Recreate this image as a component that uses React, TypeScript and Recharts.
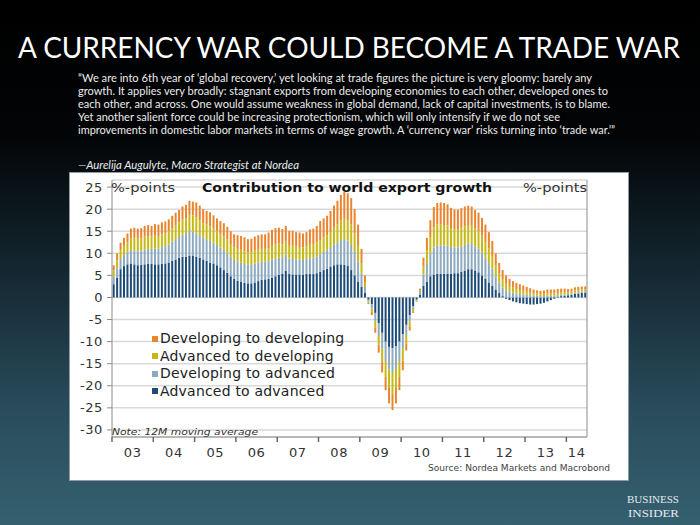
import React from 'react';
import { BarChart, Bar, XAxis, YAxis, CartesianGrid, Legend } from 'recharts';

// two-digit years on the axis, last year only runs to June
const years = ['03', '04', '05', '06', '07', '08', '09', '10', '11', '12', '13', '14'];
const monthsInLastYear = 6;

// %-points, 12M moving average, one value per month from Jan 2003
const advToAdv = [
  3.0, 4.5, 6.4, 7.1, 7.5, 7.7, 7.5, 7.3, 7.4, 7.5, 7.6, 7.6,
  7.5, 7.5, 7.6, 7.7, 7.9, 8.3, 8.6, 9.0, 9.2, 9.2, 9.5, 9.5,
  9.2, 9.0, 8.6, 8.3, 7.9, 7.7, 7.3, 6.8, 6.2, 5.6, 4.8, 4.2,
  3.8, 3.5, 3.3, 3.2, 3.2, 3.4, 3.7, 4.0, 4.1, 4.2, 4.5, 4.8,
  5.1, 5.4, 6.0, 5.3, 5.2, 5.2, 5.2, 5.2, 5.3, 5.3, 5.3, 5.5,
  5.8, 6.2, 6.5, 7.0, 7.3, 7.5, 7.5, 7.4, 7.2, 6.2, 5.0, 3.6,
  2.4, 1.0, -0.5, -1.5, -3.5, -5.8, -8.0, -10.0, -11.2, -11.5, -11.0, -10.0,
  -8.3, -6.2, -4.0, -2.0, -0.5, 0.6, 2.6, 3.6, 4.8, 5.2, 5.4, 5.4,
  5.4, 5.4, 5.4, 5.5, 5.5, 5.8, 6.1, 6.4, 6.4, 6.1, 5.7, 5.0,
  4.2, 3.4, 2.6, 1.8, 1.0, 0.3, -0.3, -0.6, -0.9, -1.1, -1.3, -1.4,
  -1.5, -1.6, -1.6, -1.5, -1.4, -1.2, -0.9, -0.6, -0.3, 0.1, 0.3, 0.4,
  0.5, 0.6, 0.8, 0.9, 1.0, 1.1,
];

const devToAdv = [
  1.7, 2.1, 2.3, 2.5, 2.7, 3.1, 3.2, 3.2, 3.2, 3.4, 3.4, 3.4,
  3.6, 3.6, 3.8, 3.9, 4.1, 4.3, 4.6, 4.7, 5.0, 5.2, 5.5, 5.4,
  5.3, 5.1, 4.9, 4.9, 4.9, 4.7, 4.6, 4.5, 4.6, 4.5, 4.4, 4.3,
  4.3, 4.4, 4.3, 4.2, 4.2, 4.3, 4.2, 4.1, 4.0, 4.0, 4.1, 4.0,
  3.9, 3.6, 3.7, 3.5, 3.5, 3.4, 3.4, 3.3, 3.4, 3.6, 3.7, 3.8,
  4.0, 4.1, 4.2, 4.4, 4.7, 5.0, 5.5, 5.8, 5.7, 5.7, 5.3, 4.5,
  3.0, 1.4, -0.4, -1.0, -1.8, -2.7, -3.6, -4.4, -5.1, -5.6, -5.2, -4.4,
  -3.3, -2.3, -1.4, -0.6, -0.2, 0.6, 2.6, 4.0, 5.1, 6.1, 6.4, 6.4,
  6.4, 6.3, 6.0, 5.8, 5.8, 5.8, 5.8, 5.8, 5.7, 5.5, 5.4, 5.2,
  4.8, 4.4, 3.9, 3.0, 2.4, 2.0, 1.6, 1.3, 1.1, 0.9, 0.8, 0.7,
  0.6, 0.5, 0.4, 0.4, 0.3, 0.3, 0.4, 0.4, 0.4, 0.4, 0.4, 0.3,
  0.3, 0.3, 0.3, 0.3, 0.3, 0.3,
];

const advToDev = [
  1.4, 1.8, 2.0, 2.1, 2.3, 2.6, 2.8, 2.8, 2.8, 2.9, 2.9, 2.8,
  2.9, 2.8, 2.9, 2.9, 3.0, 3.1, 3.2, 3.3, 3.4, 3.5, 3.7, 3.7,
  3.6, 3.4, 3.3, 3.3, 3.3, 3.2, 3.1, 3.0, 3.0, 3.0, 2.9, 2.9,
  2.9, 2.9, 2.9, 2.8, 2.8, 2.9, 2.9, 2.9, 2.9, 3.0, 3.1, 3.2,
  3.2, 3.0, 3.1, 2.9, 3.0, 2.9, 2.8, 2.8, 2.9, 3.0, 3.1, 3.2,
  3.2, 3.3, 3.4, 3.5, 3.8, 4.0, 4.4, 4.6, 4.6, 4.6, 4.2, 3.6,
  2.4, 1.1, -0.3, -0.8, -1.5, -2.2, -3.0, -3.6, -4.2, -4.6, -4.3, -3.6,
  -2.7, -1.9, -1.2, -0.5, -0.2, 0.4, 1.9, 3.0, 3.8, 4.6, 4.8, 4.8,
  4.6, 4.6, 4.3, 4.2, 4.2, 4.2, 4.2, 4.2, 4.1, 4.0, 3.9, 3.8,
  3.6, 3.3, 2.9, 2.4, 2.0, 1.7, 1.5, 1.3, 1.1, 1.0, 0.9, 0.8,
  0.7, 0.6, 0.5, 0.5, 0.5, 0.5, 0.5, 0.5, 0.5, 0.5, 0.5, 0.5,
  0.4, 0.4, 0.5, 0.5, 0.5, 0.4,
];

const devToDev = [
  1.2, 1.6, 1.7, 1.8, 2.0, 2.2, 2.3, 2.3, 2.3, 2.4, 2.5, 2.4,
  2.6, 2.6, 2.7, 2.7, 2.7, 2.8, 2.8, 2.8, 3.0, 3.1, 3.2, 3.1,
  3.4, 3.3, 3.2, 3.1, 3.2, 3.0, 2.9, 3.0, 3.0, 2.9, 2.9, 2.9,
  3.1, 3.1, 3.1, 3.0, 3.1, 3.2, 3.3, 3.3, 3.3, 3.5, 3.6, 3.7,
  3.6, 3.5, 3.4, 3.4, 3.4, 3.3, 3.3, 3.2, 3.2, 3.5, 3.5, 3.7,
  4.3, 4.3, 4.4, 4.7, 5.0, 5.4, 5.8, 6.1, 6.1, 6.0, 5.5, 4.8,
  3.2, 1.5, -0.3, -0.7, -1.2, -1.8, -2.4, -3.0, -3.5, -3.8, -3.5, -3.0,
  -2.2, -1.6, -0.9, -0.4, -0.1, 0.4, 1.9, 2.9, 3.8, 4.6, 4.8, 4.9,
  5.0, 4.8, 4.6, 4.4, 4.4, 4.4, 4.5, 4.4, 4.4, 4.2, 4.2, 4.0,
  3.9, 3.7, 3.4, 2.8, 2.4, 2.2, 1.9, 1.6, 1.5, 1.4, 1.3, 1.2,
  1.1, 1.0, 0.9, 0.7, 0.7, 0.8, 0.9, 0.9, 0.9, 0.9, 0.8, 0.8,
  0.7, 0.7, 0.7, 0.7, 0.7, 0.7,
];

const yTicks = [-30, -25, -20, -15, -10, -5, 0, 5, 10, 15, 20, 25];

const quoteLines = [
  '\u201CWe are into 6th year of \u2018global recovery,\u2019 yet looking at trade figures the picture is very gloomy: barely any',
  'growth. It applies very broadly: stagnant exports from developing economies to each other, developed ones to',
  'each other, and across. One would assume weakness in global demand, lack of capital investments, is to blame.',
  'Yet another salient force could be increasing protectionism, which will only intensify if we do not see',
  'improvements in domestic labor markets in terms of wage growth. A \u2018currency war\u2019 risks turning into \u2018trade war.\u2019\u201D',
];
const quoteWidths = [514, 530, 532, 482, 537];

const series = [
  { key: 'advToAdv', name: 'Advanced to advanced', color: '#1d4b77' },
  { key: 'devToAdv', name: 'Developing to advanced', color: '#8eaac0' },
  { key: 'advToDev', name: 'Advanced to developing', color: '#c6b912' },
  { key: 'devToDev', name: 'Developing to developing', color: '#ea852e' },
];

const months: string[] = [];
years.forEach((yy, k) => {
  const n = k === years.length - 1 ? monthsInLastYear : 12;
  for (let m = 1; m <= n; m++) months.push(`${yy}-${String(m).padStart(2, '0')}`);
});

const rows = months.map((month, i) => ({
  month,
  advToAdv: advToAdv[i],
  devToAdv: devToAdv[i],
  advToDev: advToDev[i],
  devToDev: devToDev[i],
}));

const axisFont = 'DejaVu Sans, Verdana, sans-serif';
const axisGrey = '#8c8c8c';

function YearTick(props: any) {
  const { x, y, payload } = props;
  const [yy, mm] = String(payload.value).split('-');
  const half = payload.offset ?? 1.72;
  const left = x - half;
  const last = yy === years[years.length - 1];
  const showLabel = last ? mm === '04' : mm === '07';
  return (
    <g>
      {mm === '01' && <line x1={left} x2={left} y1={y} y2={y + 5} stroke="#666" strokeWidth={1.5} />}
      {showLabel && (
        <text x={left} y={y + 20} textAnchor="middle" fontFamily={axisFont} fontSize={13} letterSpacing={0.6} fill="#333">
          {yy}
        </text>
      )}
    </g>
  );
}

function RightTick(props: any) {
  const { x, y, payload } = props;
  return (
    <text x={x + 29} y={y} dy={4.5} textAnchor="end" fontFamily={axisFont} fontSize={13} letterSpacing={0.6} fill="#333">
      {payload.value}
    </text>
  );
}

function LeftTick(props: any) {
  const { x, y, payload } = props;
  return (
    <text x={x} y={y} dy={4.5} textAnchor="end" fontFamily={axisFont} fontSize={13} letterSpacing={0.6} fill="#333">
      {payload.value}
    </text>
  );
}

function LegendBox() {
  const order = [...series].reverse();
  return (
    <div style={{ fontFamily: axisFont, fontSize: 14, color: '#222', lineHeight: '17.5px', letterSpacing: 0.2 }}>
      {order.map((s) => (
        <div key={s.key} style={{ display: 'flex', alignItems: 'center', whiteSpace: 'nowrap' }}>
          <span style={{ display: 'inline-block', width: 6, height: 6, background: s.color, marginRight: 2 }} />
          {s.name}
        </div>
      ))}
    </div>
  );
}

export default function App() {
  return (
    <div
      style={{
        position: 'absolute',
        left: 0,
        top: 0,
        width: 700,
        height: 525,
        overflow: 'hidden',
        background: 'linear-gradient(180deg, #000 0%, #020405 25%, #13252e 50%, #294c5c 78%, #35606f 100%)',
      }}
    >
      <div
        style={{
          position: 'absolute',
          left: 69,
          top: 172,
          width: 560,
          height: 309,
          boxSizing: 'border-box',
          border: '1px solid #8e9ba4',
          background: '#fff',
        }}
      />
      <div style={{ position: 'absolute', left: 70, top: 173 }}>
        <BarChart
          width={558}
          height={307}
          data={rows}
          stackOffset="sign"
          barCategoryGap="20%"
          margin={{ top: 7, right: 0, bottom: 0, left: 0 }}
        >
          <CartesianGrid yAxisId="left" vertical={false} stroke="#d9d9d9" strokeWidth={1.5} />
          <XAxis
            dataKey="month"
            interval={0}
            height={43}
            tickSize={0}
            tickMargin={0}
            tickLine={false}
            axisLine={{ stroke: axisGrey }}
            tick={<YearTick />}
          />
          <YAxis
            yAxisId="left"
            domain={[-31.6, 26.6]}
            ticks={yTicks}
            interval={0}
            width={42}
            tickSize={5}
            tickMargin={4}
            axisLine={{ stroke: axisGrey }}
            tickLine={{ stroke: axisGrey }}
            tick={<LeftTick />}
          />
          <YAxis
            yAxisId="right"
            orientation="right"
            domain={[-31.6, 26.6]}
            ticks={yTicks}
            interval={0}
            width={41}
            tickSize={5}
            tickMargin={0}
            axisLine={{ stroke: axisGrey }}
            tickLine={{ stroke: axisGrey }}
            tick={<RightTick />}
          />
          {series.map((s) => (
            <Bar
              key={s.key}
              dataKey={s.key}
              name={s.name}
              stackId="trade"
              yAxisId="left"
              fill={s.color}
              isAnimationActive={false}
            />
          ))}
          <Legend
            layout="vertical"
            align="center"
            verticalAlign="middle"
            wrapperStyle={{ left: 82, top: 157, width: 'auto' }}
            content={() => <LegendBox />}
          />
        </BarChart>
      </div>

      <svg width={700} height={525} style={{ position: 'absolute', left: 0, top: 0, pointerEvents: 'none' }}>
        <text x={18} y={58} fontFamily="Lato, sans-serif" fontSize={28} fill="#fff" textLength={662} lengthAdjust="spacingAndGlyphs">
          A CURRENCY WAR COULD BECOME A TRADE WAR
        </text>
        {quoteLines.map((line, i) => (
          <text
            key={i}
            x={78}
            y={82 + i * 13}
            fontFamily="Lato, sans-serif"
            fontSize={10.5}
            fill="#ececec"
            textLength={quoteWidths[i]}
            lengthAdjust="spacingAndGlyphs"
          >
            {line}
          </text>
        ))}
        <text x={78} y={168.5} fontFamily="Lato, sans-serif" fontStyle="italic" fontSize={10.5} fill="#ececec" textLength={221} lengthAdjust="spacingAndGlyphs">
          {'\u2014Aurelija Augulyte, Macro Strategist at Nordea'}
        </text>

        <text x={111} y={192} fontFamily={axisFont} fontSize={13} fill="#333" textLength={64} lengthAdjust="spacingAndGlyphs">
          %-points
        </text>
        <text x={523} y={192} fontFamily={axisFont} fontSize={13} fill="#333" textLength={64} lengthAdjust="spacingAndGlyphs">
          %-points
        </text>
        <text x={202} y={192} fontFamily={axisFont} fontWeight="bold" fontSize={13} fill="#111" textLength={290} lengthAdjust="spacingAndGlyphs">
          Contribution to world export growth
        </text>
        <text x={112} y={435} fontFamily={axisFont} fontStyle="italic" fontSize={9.5} fill="#333" textLength={146} lengthAdjust="spacingAndGlyphs">
          Note: 12M moving average
        </text>
        <text x={428} y={471} fontFamily={axisFont} fontSize={8.5} fill="#444" textLength={182} lengthAdjust="spacingAndGlyphs">
          Source: Nordea Markets and Macrobond
        </text>

        <text x={627} y={503} fontFamily="Liberation Serif, serif" fontSize={11} fill="#e4ebee" textLength={52} lengthAdjust="spacingAndGlyphs">
          BUSINESS
        </text>
        <text x={628} y={517} fontFamily="Liberation Serif, serif" fontSize={11} fill="#e4ebee" textLength={51} lengthAdjust="spacingAndGlyphs">
          INSIDER
        </text>
      </svg>
    </div>
  );
}
